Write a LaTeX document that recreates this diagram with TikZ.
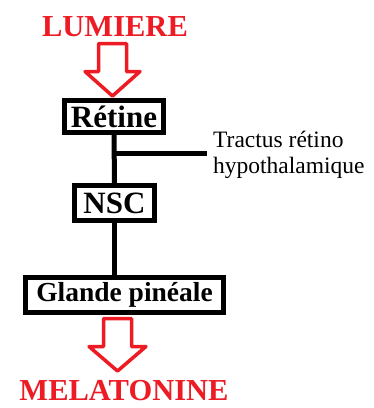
\documentclass[tikz,border=0pt]{standalone}
\usepackage{fontspec}
\setmainfont{Liberation Serif}
\usetikzlibrary{positioning, calc}
\definecolor{arrowred}{RGB}{237,28,36}
\tikzset{boite/.style={draw, line width=5pt, fill=white, inner sep=0pt, font=\bfseries\fontsize{31}{31}\selectfont},
         titre/.style={text=arrowred, anchor=base, inner sep=0pt, font=\bfseries\fontsize{30.5}{30.5}\selectfont},
         blockarrow/.style={draw=arrowred, line width=3.5pt, line join=round}}

\begin{document}
\begin{tikzpicture}[x=1pt, y=-1pt]
    \useasboundingbox (0,0) rectangle (374,408);

            \node[titre] (lum) at (115,36) {LUMIERE};

            \node[boite, minimum width=99pt, minimum height=32pt] (retine) at (114,116.5) {Rétine};
            \node[boite, minimum width=80pt, minimum height=35pt] (nsc) at (114.5,203) {NSC};
            \node[boite, minimum width=198pt, minimum height=35pt, font=\bfseries\fontsize{27.5}{27.5}\selectfont] (glande) at (124.5,295) {Glande pinéale};

            \node[titre] (mel) at (124,400.5) {MELATONINE};

            \coordinate (a1) at (112.5,43.5);
            \coordinate (a2) at (117.5,318.5);
            \draw[blockarrow] (a1) ++(-14,0) -- ++(0,28) -- ++(-13.5,0) -- ($(a1)+(0,52.5)$) -- ($(a1)+(27.5,28)$) -- ++(-13.5,0) -- ++(0,-28) -- cycle;
            \draw[blockarrow] (a2) ++(-14,0) -- ++(0,28) -- ++(-14.5,0) -- ($(a2)+(0,52.5)$) -- ($(a2)+(28.5,28)$) -- ++(-14.5,0) -- ++(0,-28) -- cycle;

            \coordinate (tr) at (207,153);
            \draw[line width=5pt] (retine.south) -- (nsc.north);
            \draw[line width=5pt] (retine.south |- tr) -- (tr);
            \draw[line width=5pt] (nsc.south) -- (nsc.south |- glande.north);

            \node[anchor=north west, inner sep=0pt, align=left, font=\fontsize{23.5}{26}\selectfont] (tractus) at (213,131) {Tractus rétino\\hypothalamique};

\end{tikzpicture}
\end{document}
